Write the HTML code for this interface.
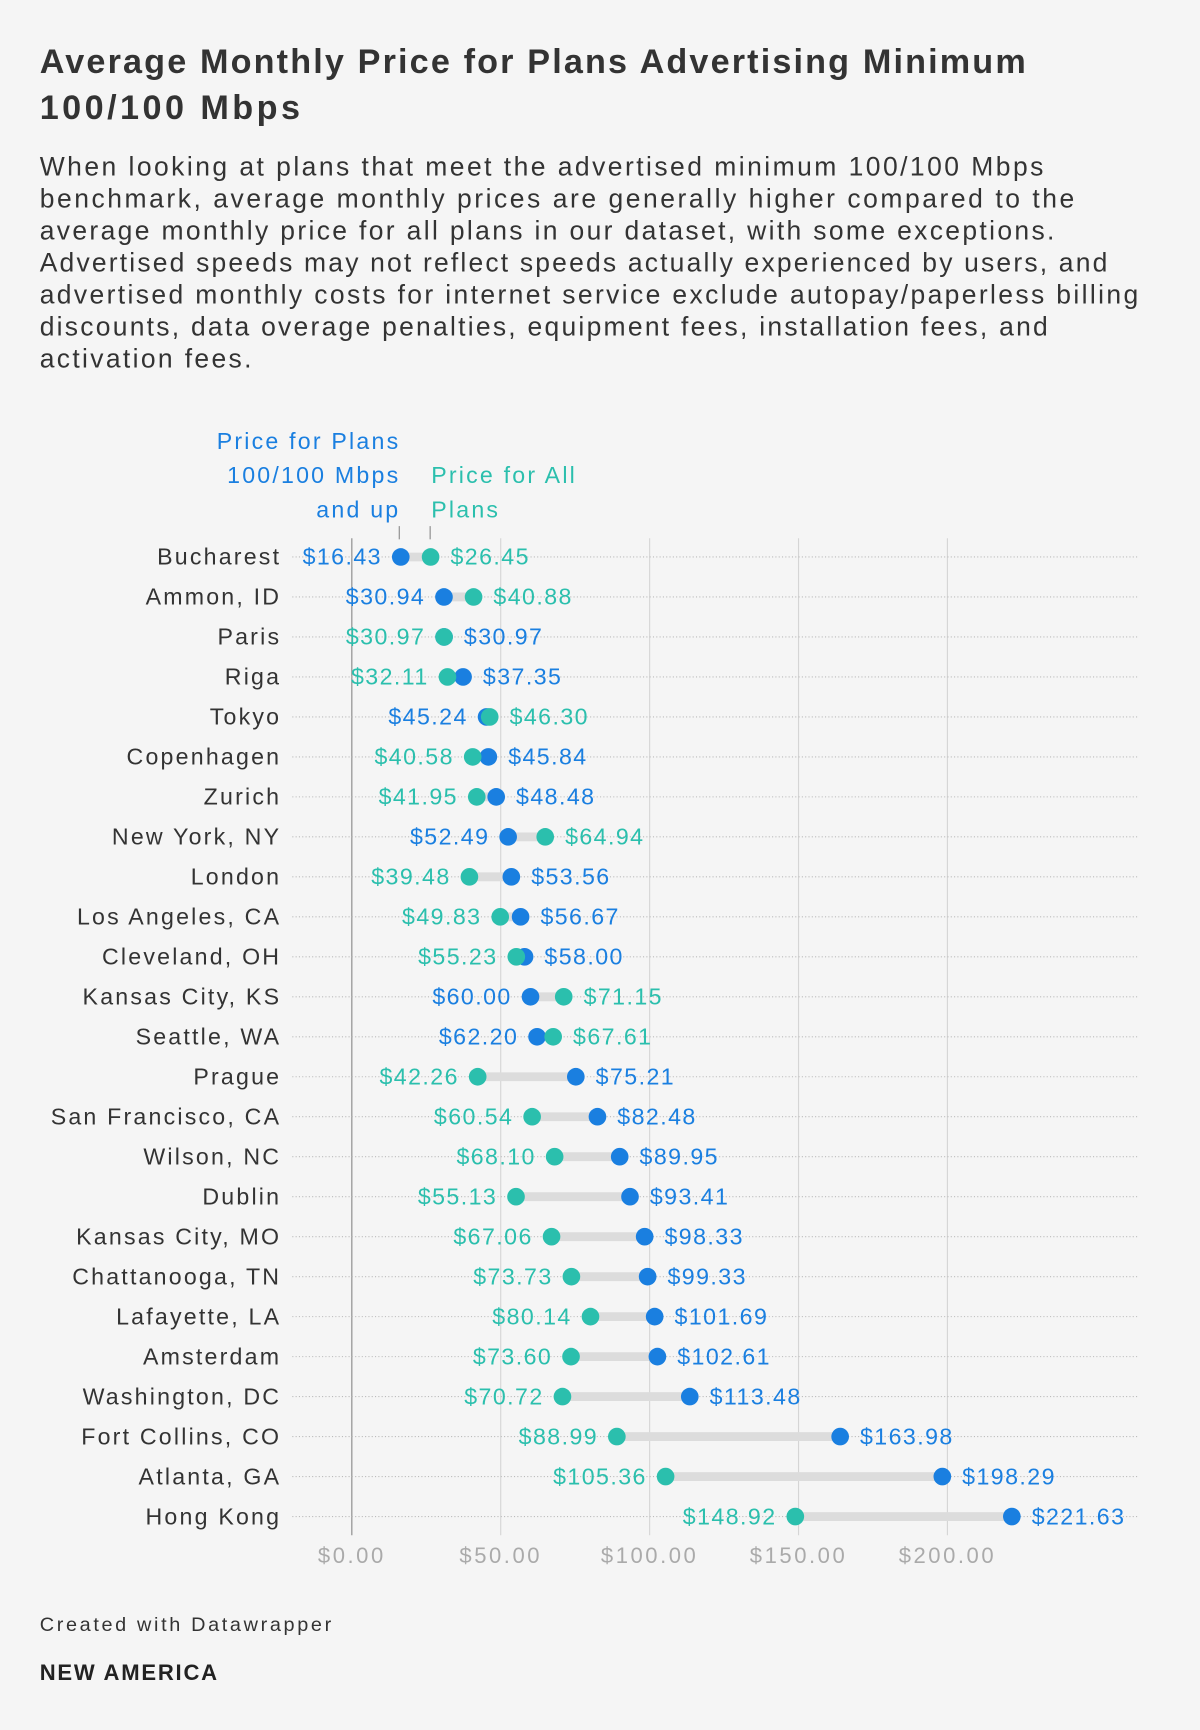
<!DOCTYPE html>
<html><head><meta charset="utf-8"><style>
html,body{margin:0;padding:0;background:#f5f5f5;width:1200px;height:1730px;overflow:hidden}
#wrap{width:1088px;height:1568px;transform:scale(1.10294);transform-origin:0 0;position:relative;font-family:"Liberation Sans",sans-serif;color:#333}
svg{position:absolute;left:0;top:0}
.foot1{position:absolute;left:36px;top:1463px;font-size:18px;color:#333;letter-spacing:2.4px}
.foot2{position:absolute;left:36px;top:1506px;font-size:20px;font-weight:bold;color:#222;letter-spacing:1.6px}
</style></head><body>
<div id="wrap">
<svg id="head" width="1088" height="360" font-family="Liberation Sans, sans-serif">
<g font-size="31" font-weight="bold" fill="#333">
<text x="36" y="66" textLength="894" lengthAdjust="spacing">Average Monthly Price for Plans Advertising Minimum</text>
<text x="36" y="108" textLength="236" lengthAdjust="spacing">100/100 Mbps</text>
</g>
<g font-size="24" fill="#333">
<text x="36" y="159" textLength="910" lengthAdjust="spacing">When looking at plans that meet the advertised minimum 100/100 Mbps</text>
<text x="36" y="188" textLength="938" lengthAdjust="spacing">benchmark, average monthly prices are generally higher compared to the</text>
<text x="36" y="217" textLength="920" lengthAdjust="spacing">average monthly price for all plans in our dataset, with some exceptions.</text>
<text x="36" y="246" textLength="968" lengthAdjust="spacing">Advertised speeds may not reflect speeds actually experienced by users, and</text>
<text x="36" y="275" textLength="996" lengthAdjust="spacing">advertised monthly costs for internet service exclude autopay/paperless billing</text>
<text x="36" y="304" textLength="914" lengthAdjust="spacing">discounts, data overage penalties, equipment fees, installation fees, and</text>
<text x="36" y="333" textLength="192" lengthAdjust="spacing">activation fees.</text>
</g>
</svg>
<svg id="chart" width="1088" height="1568" font-family="Liberation Sans, sans-serif" style="pointer-events:none"></svg>
<div class="foot1">Created with Datawrapper</div>
<div class="foot2">NEW AMERICA</div>
</div>
<script>
const cities=["Bucharest","Ammon, ID","Paris","Riga","Tokyo","Copenhagen","Zurich","New York, NY","London","Los Angeles, CA","Cleveland, OH","Kansas City, KS","Seattle, WA","Prague","San Francisco, CA","Wilson, NC","Dublin","Kansas City, MO","Chattanooga, TN","Lafayette, LA","Amsterdam","Washington, DC","Fort Collins, CO","Atlanta, GA","Hong Kong"];
const fastPlans=[16.43,30.94,30.97,37.35,45.24,45.84,48.48,52.49,53.56,56.67,58.00,60.00,62.20,75.21,82.48,89.95,93.41,98.33,99.33,101.69,102.61,113.48,163.98,198.29,221.63];
const allPlans=[26.45,40.88,30.97,32.11,46.30,40.58,41.95,64.94,39.48,49.83,55.23,71.15,67.61,42.26,60.54,68.10,55.13,67.06,73.73,80.14,73.60,70.72,88.99,105.36,148.92];
const ticks=[0,50,100,150,200];
const BLUE="#1a7fe0",TEAL="#2bbfad";
const svg=document.getElementById('chart');const NS="http://www.w3.org/2000/svg";
const x=v=>319+v*2.7;
const y=i=>505+i*36.25;
function mk(t,a,txt){const e=document.createElementNS(NS,t);for(const k in a)e.setAttribute(k,a[k]);if(txt!==undefined)e.textContent=txt;svg.appendChild(e);return e;}
ticks.forEach(t=>{
 const g=mk('line',{x1:x(t),x2:x(t),y1:488,y2:1392,stroke:t===0?'#888':'#d5d5d5','stroke-width':1});
 
 
 const l=mk('text',{x:x(t),y:1417,'text-anchor':'middle','font-size':20,fill:'#aaa','letter-spacing':'2.3px'},'$'+t.toFixed(2));
 
 
});
cities.forEach((c,i)=>{
 const yy=y(i);
 const r=mk('line',{x1:265,x2:1032,y1:yy,y2:yy,stroke:'#bbb','stroke-width':1,'stroke-dasharray':'1,2'});
 
 
 const cl=mk('text',{x:255,y:yy+7,'text-anchor':'end','font-size':21,fill:'#333','letter-spacing':'2px'},c);
 
 
 const f=fastPlans[i],a=allPlans[i];
 const bar=mk('line',{x1:x(Math.min(f,a)),x2:x(Math.max(f,a)),y1:yy,y2:yy,stroke:'#dcdcdc','stroke-width':8});
 
 
 const fd=mk('circle',{cx:x(f),cy:yy,r:8,fill:BLUE});
 
 
 const ad=mk('circle',{cx:x(a),cy:yy,r:8,fill:TEAL});
 
 
 const lowIsFast=f<a;
 const lo=Math.min(f,a),hi=Math.max(f,a);
 const ll=mk('text',{x:x(lo)-17,y:yy+7,'text-anchor':'end','font-size':21,fill:lowIsFast?BLUE:TEAL,'letter-spacing':'1.3px'},'$'+lo.toFixed(2));
 
 
 const hl=mk('text',{x:x(hi)+18,y:yy+7,'text-anchor':'start','font-size':21,fill:lowIsFast?TEAL:BLUE,'letter-spacing':'1.3px'},'$'+hi.toFixed(2));
 
 
});
[["Price for Plans",407],["100/100 Mbps",438],["and up",469]].forEach(([t,yy])=>{
 const e=mk('text',{x:363,y:yy,'text-anchor':'end','font-size':21,fill:BLUE,'letter-spacing':'2px'},t);
 
 
});
[["Price for All",438],["Plans",469]].forEach(([t,yy])=>{
 const e=mk('text',{x:391,y:yy,'text-anchor':'start','font-size':21,fill:TEAL,'letter-spacing':'2px'},t);
 
 
});
const t1=mk('line',{x1:362,x2:362,y1:477,y2:489,stroke:'#888'});


const t2=mk('line',{x1:390,x2:390,y1:477,y2:489,stroke:'#888'});


</script>
</body></html>
